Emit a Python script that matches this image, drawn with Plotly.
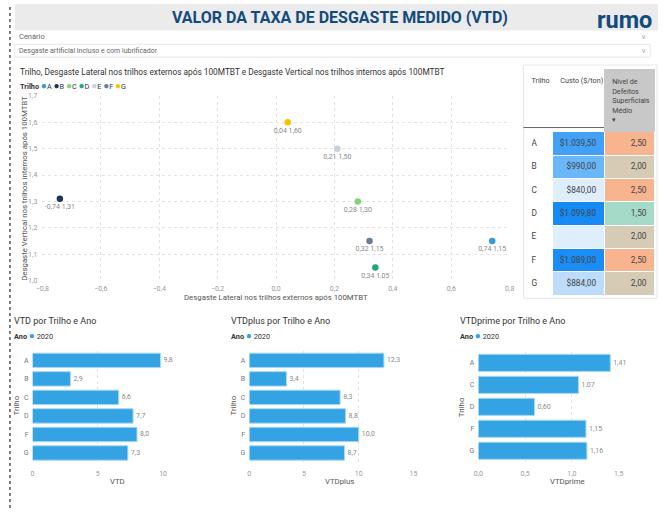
import plotly.graph_objects as go

W, H = 663, 512


def X(px):
    return px / W


def Y(py):
    return 1 - py / H


# ---------------- data ----------------
trilhos = ["A", "B", "C", "D", "E", "F", "G"]
desg_lateral = [0.74, -0.74, 0.28, 0.34, 0.21, 0.32, 0.04]
desg_vertical = [1.15, 1.31, 1.30, 1.05, 1.50, 1.15, 1.60]

custo = [1039.50, 990.00, 840.00, 1099.80, None, 1089.00, 884.00]
nivel_defeitos = [2.50, 2.00, 2.50, 1.50, 2.00, 2.50, 2.00]

vtd_cats = ["A", "B", "C", "D", "F", "G"]
vtd = [9.8, 2.9, 6.6, 7.7, 8.0, 7.3]
vtdplus = [12.3, 3.4, 8.3, 8.8, 10.0, 8.7]

vtdprime_cats = ["A", "C", "D", "F", "G"]
vtdprime = [1.41, 1.07, 0.60, 1.15, 1.16]

ano = "2020"

# ---------------- styles ----------------
trilho_colors = ["#3599e0", "#1b365d", "#7fd67a", "#1fa67e", "#c7d1db", "#6a7e98", "#f5c400"]
custo_colors = ["#42a1f7", "#69b6f9", "#deeefd", "#168bf6", "#deeefd", "#1a8df6", "#bcdcfa"]
nivel_colors = ["#f8b48e", "#d6cbb5", "#f8b48e", "#a5dac9", "#d6cbb5", "#f8b48e", "#d6cbb5"]
bar_color = "#34a3e4"
FONT = "Roboto, Noto Sans, sans-serif"
TXT = "#333333"
GRAY = "#8a8a8a"
NB = "\u00a0"


def br_num(v, dec):
    s = f"{v:,.{dec}f}"
    return s.replace(",", "X").replace(".", ",").replace("X", ".")


fig = go.Figure()

# ---------------- scatter ----------------
for t, xv, yv, c in zip(trilhos, desg_lateral, desg_vertical, trilho_colors):
    fig.add_trace(go.Scatter(
        x=[xv], y=[yv], mode="markers+text", name=t,
        marker=dict(color=c, size=6.5),
        text=[f"{br_num(xv, 2)} {br_num(yv, 2)}"],
        textposition="bottom center",
        textfont=dict(size=7, color=GRAY, family=FONT),
        cliponaxis=False, showlegend=False,
        xaxis="x", yaxis="y",
    ))

# ---------------- bars ----------------
bar_common = dict(orientation="h", marker=dict(color=bar_color, line=dict(color="#a8d8f5", width=1)),
                  textposition="outside", cliponaxis=False, constraintext="none",
                  textfont=dict(size=7, color=GRAY, family=FONT), showlegend=False)

fig.add_trace(go.Bar(x=vtd, y=vtd_cats, texttemplate="%{x:.1f}", xaxis="x2", yaxis="y2", **bar_common))
fig.add_trace(go.Bar(x=vtdplus, y=vtd_cats, texttemplate="%{x:.1f}", xaxis="x3", yaxis="y3", **bar_common))
fig.add_trace(go.Bar(x=vtdprime, y=vtdprime_cats, texttemplate="%{x:.2f}", xaxis="x4", yaxis="y4", **bar_common))

# ---------------- table ----------------
custo_txt = ["" if v is None else "$" + br_num(v, 2) for v in custo]
nivel_txt = [br_num(v, 2) for v in nivel_defeitos]
fig.add_trace(go.Table(
    domain=dict(x=[X(526), X(660)], y=[Y(300), Y(66.5)]),
    columnwidth=[29.5, 53, 51.5],
    header=dict(
        values=["Trilho", f"Custo{NB}($/ton)",
                f"Nível{NB}de<br>Defeitos<br>Superficiais<br>Médio<br>▾"],
        fill=dict(color=["white", "white", "#c8c8c8"]),
        line=dict(color=["white", "white", "#c8c8c8"], width=1),
        align="left", height=58.5,
        font=dict(size=7.2, color="#444", family=FONT),
    ),
    cells=dict(
        values=[trilhos, custo_txt, nivel_txt],
        fill=dict(color=[["white"] * 7, custo_colors, nivel_colors]),
        line=dict(color="white", width=1),
        align=["left", "right", "right"], height=23.3,
        font=dict(size=8.3, color="#444", family=FONT),
    ),
))

tick_font = dict(size=7, color="#999999", family=FONT)
grid = dict(showgrid=True, gridcolor="#e3e3e3", griddash="dot", gridwidth=1, zeroline=False,
            showline=False, ticks="", tickfont=tick_font)

layout = dict(
    width=W, height=H, autosize=False,
    margin=dict(l=0, r=0, t=0, b=0),
    paper_bgcolor="white", plot_bgcolor="white",
    separators=",.",
    font=dict(family=FONT, color=TXT),
    xaxis=dict(domain=[X(36), X(512)], range=[-0.8, 0.8], dtick=0.2, tickformat=".1f", anchor="y",
               ticklabelstandoff=2, **grid),
    yaxis=dict(domain=[Y(281), Y(93.3)], range=[1.0, 1.7], dtick=0.1, tickformat=".1f", anchor="x",
               ticklabelstandoff=4, **grid),
    xaxis2=dict(domain=[X(26), X(159)], range=[0, 10], tickvals=[0, 5, 10], anchor="y2",
                ticklabelstandoff=6, **grid),
    yaxis2=dict(domain=[Y(465.5), Y(352.6)], autorange="reversed", anchor="x2", showgrid=False,
                ticks="", ticklabelstandoff=3, tickfont=dict(size=7, color="#777", family=FONT)),
    xaxis3=dict(domain=[X(246.7), X(414)], range=[0, 15], tickvals=[0, 5, 10, 15], anchor="y3",
                ticklabelstandoff=6, **grid),
    yaxis3=dict(domain=[Y(465.5), Y(352.6)], autorange="reversed", anchor="x3", showgrid=False,
                ticks="", ticklabelstandoff=3, tickfont=dict(size=7, color="#777", family=FONT)),
    xaxis4=dict(domain=[X(480), X(623)], range=[0, 1.5], tickvals=[0, 0.5, 1.0, 1.5], tickformat=".1f",
                anchor="y4", ticklabelstandoff=6, **grid),
    yaxis4=dict(domain=[Y(465), Y(353.4)], autorange="reversed", anchor="x4", showgrid=False,
                ticks="", ticklabelstandoff=3, tickfont=dict(size=7, color="#777", family=FONT)),
    bargap=0.22,
)
fig.update_layout(**layout)

# ---------------- decorations ----------------
shapes = [
    dict(type="rect", xref="paper", yref="paper", x0=X(8), x1=X(663), y0=Y(27), y1=Y(0),
         fillcolor="#ebebeb", line=dict(width=0), layer="below"),
    dict(type="line", xref="paper", yref="paper", x0=X(3), x1=X(3), y0=0, y1=1,
         line=dict(color="#555", width=1.5, dash="dot")),
    dict(type="rect", xref="paper", yref="paper", x0=X(8), x1=X(655), y0=Y(54), y1=Y(41),
         line=dict(color="#e8e8e8", width=1), fillcolor="rgba(0,0,0,0)"),
    dict(type="rect", xref="paper", yref="paper", x0=X(526), x1=X(662), y0=Y(299), y1=Y(62),
         line=dict(color="#e6e6e6", width=1), fillcolor="rgba(0,0,0,0)"),
    dict(type="line", xref="paper", yref="paper", x0=X(526), x1=X(608), y0=Y(125.5), y1=Y(125.5),
         line=dict(color="#666", width=1)),
]
fig.update_layout(shapes=shapes)


def ann(text, px, py, size, color=TXT, xanchor="left", yanchor="middle", angle=0, family=FONT):
    return dict(text=text, x=X(px), y=Y(py), xref="paper", yref="paper", showarrow=False,
                xanchor=xanchor, yanchor=yanchor, textangle=angle,
                font=dict(size=size, color=color, family=family))


legend_trilho = "<b>Trilho</b> " + " ".join(
    f"<span style='color:{c};font-size:10px'>●</span>{t}" for t, c in zip(trilhos, trilho_colors))
legend_ano = f"<b>Ano</b> <span style='color:{bar_color};font-size:10px'>●</span> {ano}"

anns = [
    ann("<b>VALOR DA TAXA DE DESGASTE MEDIDO (VTD)</b>", 339, 14, 16, "#134a7c", xanchor="center"),
    ann("<b>rumo</b>", 659, 0.5, 23.5, "#134a7c", xanchor="right", yanchor="top"),
    ann("Cenário", 10, 33, 7.5, "#666"),
    ann("∨", 648, 34, 7, "#aaa", xanchor="center"),
    ann("Desgaste artificial incluso e com lubrificador", 10, 47.5, 7, "#666"),
    ann("∨", 648, 48, 7, "#aaa", xanchor="center"),
    ann("Trilho, Desgaste Lateral nos trilhos externos após 100MTBT e Desgaste Vertical nos trilhos internos após 100MTBT",
        11, 69.3, 8.3, TXT),
    ann(legend_trilho, 11, 83.3, 7.3, TXT),
    ann("Desgaste Lateral nos trilhos externos após 100MTBT", 274, 298, 7.8, "#555", xanchor="center"),
    ann("Desgaste Vertical nos trilhos internos após 100MTBT", 17, 187, 7.8, "#555", xanchor="center", angle=-90),
    ann("VTD por Trilho e Ano", 5, 322, 9, TXT),
    ann(legend_ano, 5, 336.5, 7.3, TXT),
    ann("VTD", 113, 485, 7.8, "#555", xanchor="center"),
    ann("Trilho", 10, 408, 7.8, "#555", xanchor="center", angle=-90),
    ann("VTDplus por Trilho e Ano", 226, 322, 9, TXT),
    ann(legend_ano, 226, 336.5, 7.3, TXT),
    ann("VTDplus", 339, 485, 7.8, "#555", xanchor="center"),
    ann("Trilho", 231, 408, 7.8, "#555", xanchor="center", angle=-90),
    ann("VTDprime por Trilho e Ano", 459, 322, 9, TXT),
    ann(legend_ano, 459, 336.5, 7.3, TXT),
    ann("VTDprime", 571, 485, 7.8, "#555", xanchor="center"),
    ann("Trilho", 463, 410, 7.8, "#555", xanchor="center", angle=-90),
]
fig.update_layout(annotations=anns)

post = (
    "document.documentElement.style.margin='0';document.documentElement.style.overflow='hidden';"
    "document.body.style.margin='0';document.body.style.overflow='hidden';"
    "var d=document.getElementById('{plot_id}');"
    "d.style.position='fixed';d.style.left='0px';d.style.top='0px';"
)
fig.write_html("out.html", post_script=post, config={"displayModeBar": False})
